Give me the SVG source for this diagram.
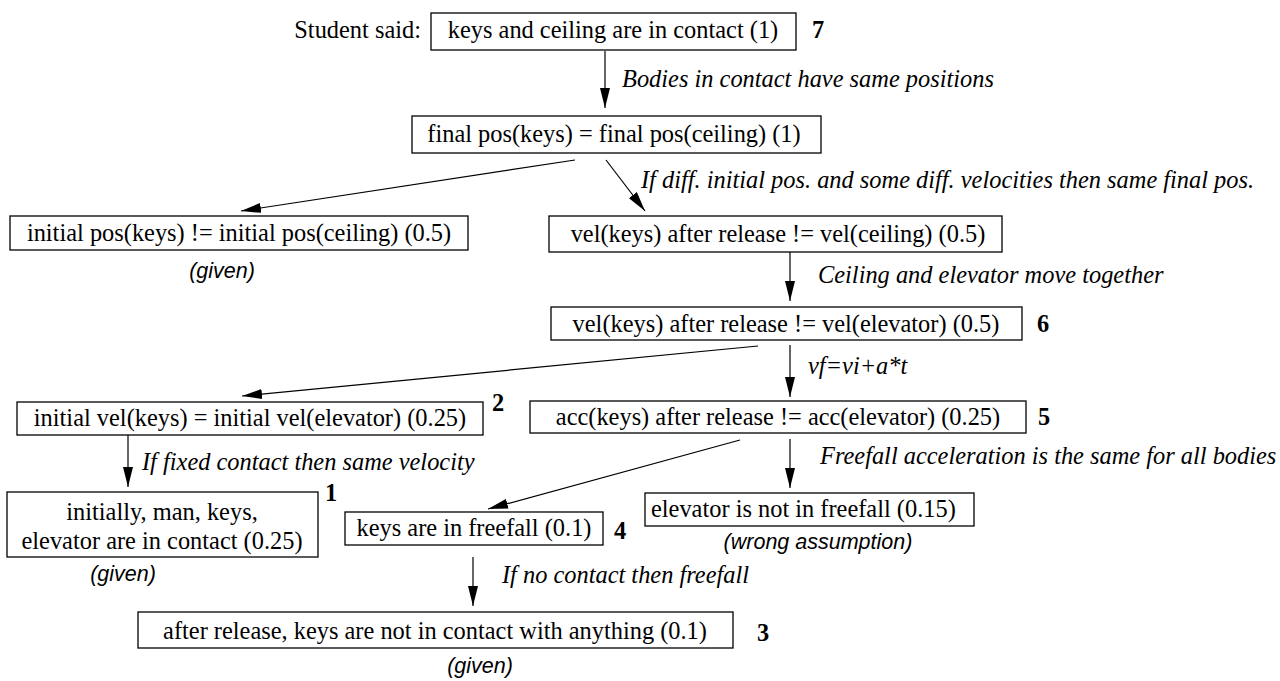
<svg xmlns="http://www.w3.org/2000/svg" width="1280" height="681" viewBox="0 0 1280 681">
<style>
.bg{fill:#ffffff}
.box{fill:#ffffff;stroke:#000;stroke-width:1.3}
.t{font-family:"Liberation Serif","Times New Roman",serif;font-size:24.4px;fill:#000}
.c{text-anchor:middle}
.lab{font-family:"Liberation Serif","Times New Roman",serif;font-size:24.4px;font-style:italic;fill:#000}
.num{font-family:"Liberation Serif","Times New Roman",serif;font-size:24.4px;font-weight:bold;fill:#000}
.note{font-family:"Liberation Sans",Arial,sans-serif;font-size:21.5px;font-style:italic;fill:#000;text-anchor:middle}
.edge{stroke:#000;stroke-width:1.2;fill:none;marker-end:url(#ah)}
</style>
<defs>
<marker id="ah" viewBox="0 0 20 10" refX="20" refY="5" markerWidth="20" markerHeight="10" markerUnits="userSpaceOnUse" orient="auto">
<path d="M0,0 L20,5 L0,10 z" fill="#000"/>
</marker>
</defs>
<rect class="bg" x="0" y="0" width="1280" height="681"/>

<text class="t" x="421" y="38" text-anchor="end">Student said:</text>

<g id="n7">
<rect class="box" x="431" y="13" width="365" height="37"/>
<text class="t c" x="613" y="38">keys and ceiling are in contact (1)</text>
<text class="num" x="812" y="38">7</text>
</g>

<g id="nfinal">
<rect class="box" x="412" y="116" width="409" height="37"/>
<text class="t c" x="614" y="142">final pos(keys) = final pos(ceiling) (1)</text>
</g>

<g id="ninitpos">
<rect class="box" x="10" y="216" width="458" height="34"/>
<text class="t c" x="239" y="241">initial pos(keys) != initial pos(ceiling) (0.5)</text>
<text class="note" x="222" y="278">(given)</text>
</g>

<g id="nvelceil">
<rect class="box" x="549" y="216" width="453" height="36"/>
<text class="t c" x="778" y="242">vel(keys) after release != vel(ceiling) (0.5)</text>
</g>

<g id="n6">
<rect class="box" x="551" y="307" width="471" height="33"/>
<text class="t c" x="786" y="332">vel(keys) after release != vel(elevator) (0.5)</text>
<text class="num" x="1037" y="332">6</text>
</g>

<g id="n2">
<rect class="box" x="17" y="402" width="466" height="33"/>
<text class="t c" x="250" y="426">initial vel(keys) = initial vel(elevator) (0.25)</text>
<text class="num" x="492" y="411">2</text>
</g>

<g id="n5">
<rect class="box" x="530" y="401" width="496" height="32"/>
<text class="t c" x="778" y="425">acc(keys) after release != acc(elevator) (0.25)</text>
<text class="num" x="1038" y="425">5</text>
</g>

<g id="n1">
<rect class="box" x="7" y="492" width="311" height="65"/>
<text class="t c" x="162" y="520">initially, man, keys,</text>
<text class="t c" x="162" y="549">elevator are in contact (0.25)</text>
<text class="num" x="325" y="501">1</text>
<text class="note" x="123" y="581">(given)</text>
</g>

<g id="n4">
<rect class="box" x="345" y="512" width="258" height="33"/>
<text class="t c" x="474" y="536">keys are in freefall (0.1)</text>
<text class="num" x="614" y="539">4</text>
</g>

<g id="nelev">
<rect class="box" x="645" y="493" width="329" height="33"/>
<text class="t" x="651" y="517">elevator is not in freefall (0.15)</text>
<text class="note" x="818" y="549">(wrong assumption)</text>
</g>

<g id="n3">
<rect class="box" x="138" y="612" width="595" height="36"/>
<text class="t c" x="435" y="639">after release, keys are not in contact with anything (0.1)</text>
<text class="num" x="757" y="641">3</text>
<text class="note" x="480" y="673">(given)</text>
</g>

<g id="connectors">
<line class="edge" x1="605" y1="51" x2="605" y2="108"/>
<text class="lab" x="622" y="87">Bodies in contact have same positions</text>
<line class="edge" x1="575" y1="160" x2="241" y2="211"/>
<line class="edge" x1="606" y1="160" x2="645" y2="211"/>
<text class="lab" x="641" y="188">If diff. initial pos. and some diff. velocities then same final pos.</text>
<line class="edge" x1="790" y1="252" x2="790" y2="301"/>
<text class="lab" x="818" y="283">Ceiling and elevator move together</text>
<line class="edge" x1="758" y1="346" x2="242" y2="396"/>
<line class="edge" x1="790" y1="345" x2="790" y2="397"/>
<text class="lab" x="808" y="374">vf=vi+a*t</text>
<line class="edge" x1="128" y1="435" x2="128" y2="487"/>
<text class="lab" x="142" y="470">If fixed contact then same velocity</text>
<line class="edge" x1="740" y1="440" x2="488" y2="509"/>
<line class="edge" x1="790" y1="439" x2="790" y2="488"/>
<text class="lab" x="820" y="464">Freefall acceleration is the same for all bodies</text>
<line class="edge" x1="473" y1="557" x2="473" y2="606"/>
<text class="lab" x="502" y="583">If no contact then freefall</text>
</g>
</svg>
